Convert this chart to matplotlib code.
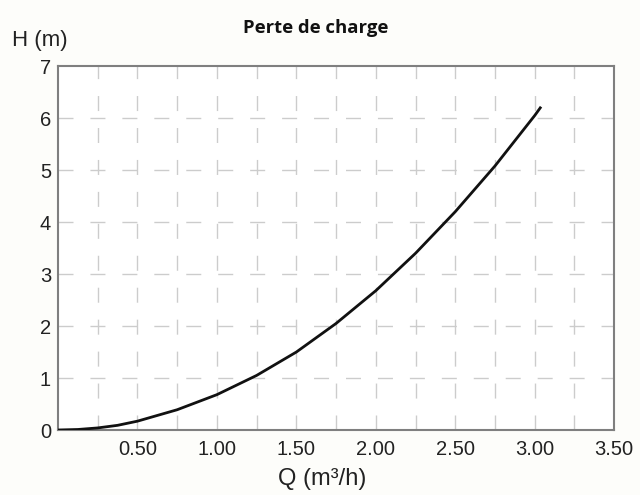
import matplotlib.pyplot as plt
import numpy as np

# debit Q (m3/h) et perte de charge H (m)
debit = [0.0, 0.125, 0.25, 0.375, 0.5, 0.75, 1.0, 1.25, 1.5, 1.75, 2.0, 2.25, 2.5, 2.75, 3.0, 3.04]
perte = [0.0, 0.01, 0.04, 0.09, 0.17, 0.39, 0.68, 1.05, 1.50, 2.05, 2.68, 3.40, 4.20, 5.08, 6.05, 6.22]

xticks = [0.50, 1.00, 1.50, 2.00, 2.50, 3.00, 3.50]
xtick_labels = ['0.50', '1.00', '1.50', '2.00', '2.50', '3.00', '3.50']
yticks = [0, 1, 2, 3, 4, 5, 6, 7]

plt.rcParams['font.family'] = ['Liberation Sans', 'DejaVu Sans']

fig = plt.figure(figsize=(6.4, 4.95), dpi=100)
fig.patch.set_facecolor('#fdfdfa')
ax = fig.add_axes([0.0906, 0.1313, 0.869, 0.735])
ax.set_facecolor('white')

# grille pointillee
grid_style = dict(color='#cccccc', linewidth=1.0, linestyle=(0, (10.8, 12.2)), zorder=1)
for xv in np.arange(0.25, 3.5, 0.25):
    ax.axvline(xv, **grid_style)
for yv in range(1, 7):
    ax.axhline(yv, **grid_style)

ax.plot(debit, perte, color='#111111', linewidth=2.0, zorder=3,
        solid_capstyle='butt', solid_joinstyle='round')

ax.set_xlim(0, 3.5)
ax.set_ylim(0, 7)
ax.set_xticks(xticks)
ax.set_xticklabels(xtick_labels)
ax.set_yticks(yticks)
ax.tick_params(axis='both', length=0, labelsize=14.5, colors='#222222')
ax.tick_params(axis='x', pad=7)
ax.tick_params(axis='y', pad=5)
for sp in ax.spines.values():
    sp.set_color('#7f7f7f')
    sp.set_linewidth(1.5)

fig.text(0.503, 0.032, 'Q (m³/h)', fontsize=17, color='#222222', ha='center', va='center')
fig.text(0.018, 0.919, 'H (m)', fontsize=16, color='#222222', ha='left', va='center')
fig.text(0.494, 0.943, 'Perte de charge', fontsize=13.3, fontweight='bold',
         family=['Open Sans', 'DejaVu Sans'], ha='center', va='center', color='#111111')

fig.savefig('out.png', dpi=100, facecolor=fig.get_facecolor())
